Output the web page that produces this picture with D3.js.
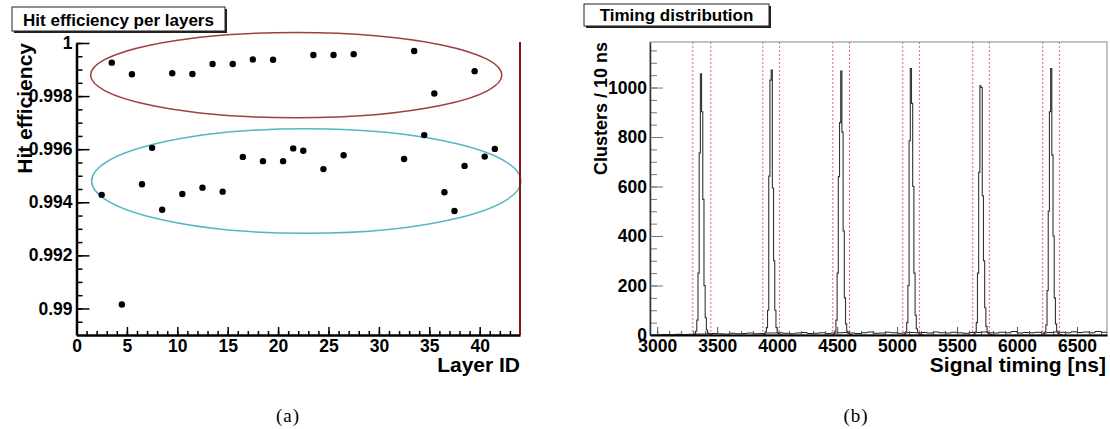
<!DOCTYPE html>
<html>
<head>
<meta charset="utf-8">
<script src="https://cdn.jsdelivr.net/npm/d3@7"></script>
<style>
  body { margin: 0; background: #fff; }
  svg { display: block; }
  text { font-family: "Liberation Sans", Arial, sans-serif; font-weight: bold; }
</style>
</head>
<body>
<svg id="chart"></svg>
<script>
// ---- data: (a) hit efficiency per layer ----
const layers = [2.5, 3.5, 4.5, 5.5, 6.5, 7.5, 8.5, 9.5, 10.5, 11.5, 12.5, 13.5, 14.5, 15.5,
  16.5, 17.5, 18.5, 19.5, 20.5, 21.5, 22.5, 23.5, 24.5, 25.5, 26.5, 27.5,
  32.5, 33.5, 34.5, 35.5, 36.5, 37.5, 38.5, 39.5, 40.5, 41.5];
const efficiency = [0.99428, 0.99926, 0.99015, 0.99882, 0.99468, 0.99605, 0.99372, 0.99886,
  0.99431, 0.99883, 0.99455, 0.99921, 0.99440, 0.99921, 0.99571, 0.99938, 0.99555, 0.99937,
  0.99555, 0.99603, 0.99594, 0.99955, 0.99525, 0.99955, 0.99577, 0.99958,
  0.99563, 0.99970, 0.99653, 0.99810, 0.99438, 0.99367, 0.99537, 0.99894, 0.99572, 0.99601];
const effTicks = [0.99, 0.992, 0.994, 0.996, 0.998, 1];
const effTickLabels = ["0.99", "0.992", "0.994", "0.996", "0.998", "1"];
const layerTicks = [0, 5, 10, 15, 20, 25, 30, 35, 40];
// ellipses drawn round the two groups: [centre layer, centre eff, half width, half height]
const groupHigh = [21.8, 0.99879, 20.4, 0.00161];
const groupLow = [22.8, 0.99480, 21.3, 0.00197];

// ---- data: (b) timing distribution ----
const timeTicks = [3000, 3500, 4000, 4500, 5000, 5500, 6000, 6500];
const countTicks = [0, 200, 400, 600, 800, 1000];
const peakStart = [3310, 3890, 4470, 5060, 5640, 6220];   // first 10 ns bin of each peak
const peakCounts = [
  [4, 15, 60, 250, 736, 1055, 902, 548, 200, 70, 20, 8, 4, 3, 2],
  [4, 12, 30, 100, 642, 1030, 1071, 594, 300, 100, 30, 10, 5, 3, 2],
  [5, 15, 60, 250, 640, 858, 1067, 820, 420, 150, 45, 15, 6, 3, 2],
  [4, 12, 50, 200, 785, 1077, 936, 600, 250, 80, 25, 10, 5, 3, 2],
  [4, 12, 50, 250, 657, 1007, 1000, 563, 300, 110, 35, 12, 5, 3, 2],
  [4, 12, 40, 180, 500, 902, 1077, 727, 400, 150, 45, 15, 6, 3, 2]
];
const bgStart = 2950;   // background level, 50 ns blocks
const background = [0, 1, 2, 1, 3, 2, 3, 4, 4, 5, 6, 5, 4, 7, 5, 6, 8, 5, 6, 8,
  8, 9, 7, 5, 8, 10, 6, 7, 9, 6, 8, 9, 10, 8, 6, 9, 12, 7, 8, 11,
  9, 7, 9, 10, 9, 10, 8, 12, 9, 8, 11, 9, 7, 10, 10, 12, 9, 8, 11, 9,
  14, 8, 10, 9, 11, 8, 10, 12, 11, 9, 13, 10, 12, 9, 14, 11];
const windowEdges = [[3297, 3447], [3881, 4019], [4464, 4603], [5047, 5186], [5631, 5769], [6214, 6353]];

const svg = d3.select("#chart").attr("width", 1110).attr("height", 429);

function styleAxis(g, tickColor, fontSize) {
  g.attr("font-family", null).attr("font-size", null);
  g.selectAll(".tick line").attr("stroke", tickColor);
  g.selectAll(".tick text").attr("fill", "#000").style("font-size", fontSize + "px");
}

function titleBox(x, y, w, h, label, baseline) {
  svg.append("rect").attr("x", x + 2).attr("y", y + 2).attr("width", w).attr("height", h).attr("fill", "#222");
  svg.append("rect").attr("x", x).attr("y", y).attr("width", w).attr("height", h)
    .attr("fill", "#fff").attr("stroke", "#222").attr("stroke-width", 1);
  svg.append("text").attr("x", x + w / 2).attr("y", baseline).attr("text-anchor", "middle")
    .style("font-size", "17px").text(label);
}

// ================= (a) =================
const xL = d3.scaleLinear().domain([0, 44]).range([76.5, 520]);
const yL = d3.scaleLinear().domain([0.989, 1.0]).range([335, 43]);

titleBox(12, 7, 213, 24, "Hit efficiency per layers", 26);

// ellipses
[[groupHigh, "#9c4040"], [groupLow, "#52b6c8"]].forEach(([e, c]) => {
  svg.append("ellipse")
    .attr("cx", xL(e[0])).attr("cy", yL(e[1]))
    .attr("rx", xL(e[0] + e[2]) - xL(e[0])).attr("ry", yL(e[1] - e[3]) - yL(e[1]))
    .attr("fill", "none").attr("stroke", c).attr("stroke-width", 1.5);
});

// right border line
svg.append("line")
  .attr("x1", xL(44)).attr("x2", xL(44)).attr("y1", yL(0.989)).attr("y2", yL(1.0) - 1)
  .attr("stroke", "#8b1414").attr("stroke-width", 2);

// minor ticks
const yMinor = d3.range(0.9895, 1.00001, 0.0005).map(v => +v.toFixed(4));
svg.append("g").attr("transform", "translate(" + xL(0) + ",0)")
  .call(d3.axisLeft(yL).tickValues(yMinor).tickSize(-6).tickFormat(""))
  .call(g => { g.select(".domain").remove(); g.selectAll(".tick line").attr("stroke", "#000").attr("stroke-width", 1.5); });
svg.append("g").attr("transform", "translate(0," + yL(0.989) + ")")
  .call(d3.axisBottom(xL).tickValues(d3.range(1, 44)).tickSize(-4).tickFormat(""))
  .call(g => { g.select(".domain").remove(); g.selectAll(".tick line").attr("stroke", "#000").attr("stroke-width", 1.5); });

// major axes
svg.append("g").attr("transform", "translate(" + xL(0) + ",0)")
  .call(d3.axisLeft(yL).tickValues(effTicks).tickSize(-13).tickSizeOuter(0).tickPadding(4)
    .tickFormat((d, i) => effTickLabels[i]))
  .call(g => {
    styleAxis(g, "#000", 17.5);
    g.select(".domain").attr("stroke", "#000").attr("stroke-width", 2.5);
    g.selectAll(".tick line").attr("stroke-width", 1.5);
  });
svg.append("g").attr("transform", "translate(0," + yL(0.989) + ")")
  .call(d3.axisBottom(xL).tickValues(layerTicks).tickSize(-8).tickSizeOuter(0).tickPadding(5))
  .call(g => {
    styleAxis(g, "#000", 17.5);
    g.select(".domain").attr("stroke", "#000").attr("stroke-width", 2.5);
    g.selectAll(".tick line").attr("stroke-width", 1.5);
  });

// points
svg.append("g").selectAll("circle").data(layers).join("circle")
  .attr("cx", (d, i) => xL(d)).attr("cy", (d, i) => yL(efficiency[i]))
  .attr("r", 3.2).attr("fill", "#000");

svg.append("text").attr("transform", "translate(32,43) rotate(-90)")
  .attr("text-anchor", "end").style("font-size", "21px").text("Hit efficiency");
svg.append("text").attr("x", 520).attr("y", 372).attr("text-anchor", "end")
  .style("font-size", "21px").text("Layer ID");

// ================= (b) =================
const xR = d3.scaleLinear().domain([2940, 6750]).range([650, 1107]);
const yR = d3.scaleLinear().domain([0, 1184]).range([335, 42]);

titleBox(584, 4, 185, 22, "Timing distribution", 21);

svg.append("defs").append("clipPath").attr("id", "clipR").append("rect")
  .attr("x", 650).attr("y", 42).attr("width", 457).attr("height", 293);

svg.append("rect").attr("x", 650).attr("y", 42).attr("width", 457).attr("height", 293)
  .attr("fill", "#fff").attr("stroke", "#999").attr("stroke-width", 1.2);

// timing windows
svg.append("g").selectAll("line").data(windowEdges.flat()).join("line")
  .attr("x1", d => xR(d)).attr("x2", d => xR(d)).attr("y1", yR(1184)).attr("y2", yR(0))
  .attr("stroke", "#e06a6a").attr("stroke-width", 1).attr("stroke-dasharray", "2,2");

// histogram
const stepLine = d3.line().x(d => xR(d[0])).y(d => yR(d[1])).curve(d3.curveStepAfter);
const hist = svg.append("g").attr("clip-path", "url(#clipR)");
const bgPts = background.map((n, i) => [bgStart + i * 50, n]);
bgPts.push([bgStart + background.length * 50, background[background.length - 1]]);
hist.append("path").attr("d", stepLine(bgPts))
  .attr("fill", "none").attr("stroke", "#222").attr("stroke-width", 1);
peakCounts.forEach((counts, k) => {
  const pts = [[peakStart[k], 0]].concat(counts.map((n, i) => [peakStart[k] + i * 10, n]));
  pts.push([peakStart[k] + counts.length * 10, 0]);
  hist.append("path").attr("d", stepLine(pts))
    .attr("fill", "none").attr("stroke", "#333").attr("stroke-width", 1.1);
});

// minor ticks
svg.append("g").attr("transform", "translate(650,0)")
  .call(d3.axisLeft(yR).tickValues(d3.range(50, 1184, 50)).tickSize(-7).tickFormat(""))
  .call(g => { g.select(".domain").remove(); g.selectAll(".tick line").attr("stroke", "#777"); });
svg.append("g").attr("transform", "translate(0,335)")
  .call(d3.axisBottom(xR).tickValues(d3.range(3000, 6750, 100)).tickSize(-4).tickFormat(""))
  .call(g => { g.select(".domain").remove(); g.selectAll(".tick line").attr("stroke", "#555"); });

svg.append("g").attr("transform", "translate(650,0)")
  .call(d3.axisLeft(yR).tickValues(countTicks).tickSize(-13).tickSizeOuter(0).tickPadding(3)
    .tickFormat(d3.format("d")))
  .call(g => {
    styleAxis(g, "#777", 17.5);
    g.select(".domain").attr("stroke", "#333").attr("stroke-width", 1.5);
  });
svg.append("g").attr("transform", "translate(0,335)")
  .call(d3.axisBottom(xR).tickValues(timeTicks).tickSize(-8).tickSizeOuter(0).tickPadding(5)
    .tickFormat(d3.format("d")))
  .call(g => {
    styleAxis(g, "#555", 17.5);
    g.select(".domain").attr("stroke", "#000").attr("stroke-width", 2);
  });

svg.append("text").attr("transform", "translate(607,42) rotate(-90)")
  .attr("text-anchor", "end").style("font-size", "18px").text("Clusters / 10 ns");
svg.append("text").attr("x", 1106).attr("y", 372).attr("text-anchor", "end")
  .style("font-size", "21px").text("Signal timing [ns]");

// captions
[["(a)", 288], ["(b)", 856]].forEach(([t, x]) => {
  svg.append("text").attr("x", x).attr("y", 422).attr("text-anchor", "middle")
    .style("font-family", "'Liberation Serif', 'Times New Roman', serif").style("font-weight", "normal")
    .style("font-size", "19px").style("letter-spacing", "1px").text(t);
});
</script>
</body>
</html>
